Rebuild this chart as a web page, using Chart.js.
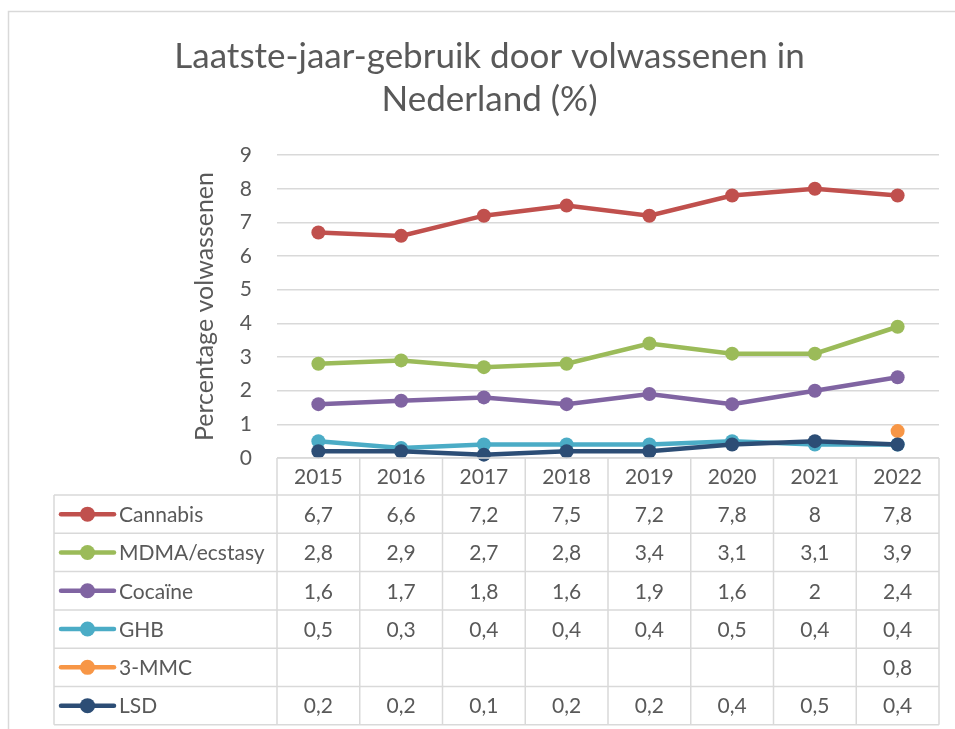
<!DOCTYPE html>
<html>
<head>
<meta charset="utf-8">
<script src="https://cdn.jsdelivr.net/npm/chart.js@4"></script>
<style>
  html, body { margin: 0; padding: 0; background: #fff; }
  #wrap { width: 955px; height: 729px; position: relative; }
</style>
</head>
<body>
<div id="wrap"><canvas id="drugChart"></canvas></div>
<script>
const years = ["2015", "2016", "2017", "2018", "2019", "2020", "2021", "2022"];
const seriesNames = ["Cannabis", "MDMA/ecstasy", "Cocaïne", "GHB", "3-MMC", "LSD"];
const seriesColors = ["#C0504D", "#9BBB59", "#8064A2", "#4BACC6", "#F79646", "#2C4D75"];
const cannabis = [6.7, 6.6, 7.2, 7.5, 7.2, 7.8, 8, 7.8];
const mdma = [2.8, 2.9, 2.7, 2.8, 3.4, 3.1, 3.1, 3.9];
const cocaine = [1.6, 1.7, 1.8, 1.6, 1.9, 1.6, 2, 2.4];
const ghb = [0.5, 0.3, 0.4, 0.4, 0.4, 0.5, 0.4, 0.4];
const mmc = [null, null, null, null, null, null, null, 0.8];
const lsd = [0.2, 0.2, 0.1, 0.2, 0.2, 0.4, 0.5, 0.4];
const seriesValues = [cannabis, mdma, cocaine, ghb, mmc, lsd];
const yTicks = [0, 1, 2, 3, 4, 5, 6, 7, 8, 9];

const FONT = "Lato, 'Noto Sans', sans-serif";
const TEXT = "#595959";
const GRID = "#D9D9D9";

const fmt = (v) => (v === null ? "" : String(v).replace(".", ","));

// frame + data table under the plot, Excel style
const dataTablePlugin = {
  id: "dataTablePlugin",
  beforeDraw(chart) {
    const { ctx, width, height } = chart;
    ctx.save();
    ctx.fillStyle = "#fff";
    ctx.fillRect(0, 0, width, height);
    ctx.strokeStyle = GRID;
    ctx.lineWidth = 1.5;
    ctx.beginPath();
    ctx.moveTo(8.5, height);
    ctx.lineTo(8.5, 11.5);
    ctx.lineTo(width, 11.5);
    ctx.stroke();
    ctx.restore();
  },
  afterDraw(chart) {
    const { ctx, chartArea } = chart;
    const xs = chart.scales.x;
    const left = chartArea.left, right = chartArea.right;
    const colW = (right - left) / years.length;
    const top = chartArea.bottom;
    const headH = 37;
    const rowH = 38.3;
    const tableLeft = 54;
    const rowsTop = top + headH;
    const bottom = rowsTop + rowH * seriesNames.length;

    ctx.save();
    ctx.strokeStyle = GRID;
    ctx.lineWidth = 1.5;
    ctx.beginPath();
    // horizontal lines
    ctx.moveTo(left, top); ctx.lineTo(right, top);
    for (let r = 0; r <= seriesNames.length; r++) {
      const y = rowsTop + r * rowH;
      ctx.moveTo(tableLeft, y); ctx.lineTo(right, y);
    }
    // vertical lines
    for (let c = 0; c <= years.length; c++) {
      const x = left + c * colW;
      ctx.moveTo(x, top); ctx.lineTo(x, bottom);
    }
    ctx.moveTo(tableLeft, rowsTop); ctx.lineTo(tableLeft, bottom);
    ctx.stroke();

    ctx.fillStyle = TEXT;
    ctx.font = `21px ${FONT}`;
    ctx.textAlign = "center";
    ctx.textBaseline = "middle";
    years.forEach((yr, i) => {
      ctx.fillText(yr, xs.getPixelForValue(i), top + headH / 2 + 1);
    });

    seriesNames.forEach((name, r) => {
      const yMid = rowsTop + r * rowH + rowH / 2;
      // legend key
      ctx.strokeStyle = seriesColors[r];
      ctx.lineWidth = 4.5;
      ctx.lineCap = "round";
      ctx.beginPath();
      ctx.moveTo(61, yMid); ctx.lineTo(114, yMid);
      ctx.stroke();
      ctx.fillStyle = seriesColors[r];
      ctx.beginPath();
      ctx.arc(87.5, yMid, 7.5, 0, Math.PI * 2);
      ctx.fill();

      ctx.fillStyle = TEXT;
      ctx.textAlign = "left";
      ctx.fillText(name, 119, yMid + 1);

      ctx.textAlign = "center";
      seriesValues[r].forEach((v, i) => {
        ctx.fillText(fmt(v), xs.getPixelForValue(i), yMid + 1);
      });
    });
    ctx.restore();
  }
};

const datasets = seriesNames.map((name, i) => ({
  label: name,
  data: seriesValues[i],
  borderColor: seriesColors[i],
  backgroundColor: seriesColors[i],
  borderWidth: 4.5,
  pointRadius: 7,
  pointHoverRadius: 7,
  pointBorderWidth: 0,
  tension: 0,
  spanGaps: false,
  clip: false,
  order: seriesNames.length - i
}));

new Chart(document.getElementById("drugChart"), {
  type: "line",
  data: { labels: years, datasets },
  options: {
    responsive: true,
    maintainAspectRatio: false,
    animation: false,
    layout: { padding: { top: 0, left: 40, right: 16, bottom: 271 } },
    plugins: {
      legend: { display: false },
      tooltip: { enabled: false },
      title: {
        display: true,
        text: ["Laatste-jaar-gebruik door volwassenen in", "Nederland (%)"],
        color: TEXT,
        font: { family: FONT, size: 35, weight: "normal", lineHeight: 1.23 },
        padding: { top: 35, bottom: 34 }
      }
    },
    scales: {
      x: { display: false, offset: true },
      y: {
        min: 0,
        max: 9,
        afterBuildTicks(scale) { scale.ticks = yTicks.map((v) => ({ value: v })); },
        afterFit(scale) { scale.width = 237; },
        grid: { color: GRID, lineWidth: 1.5, drawTicks: false },
        border: { display: false },
        ticks: { color: TEXT, padding: 25, font: { family: FONT, size: 21 } },
        title: {
          display: true,
          text: "Percentage volwassenen",
          color: TEXT,
          font: { family: FONT, size: 25 },
          padding: { top: 150 }
        }
      }
    }
  },
  plugins: [dataTablePlugin]
});
</script>
</body>
</html>
